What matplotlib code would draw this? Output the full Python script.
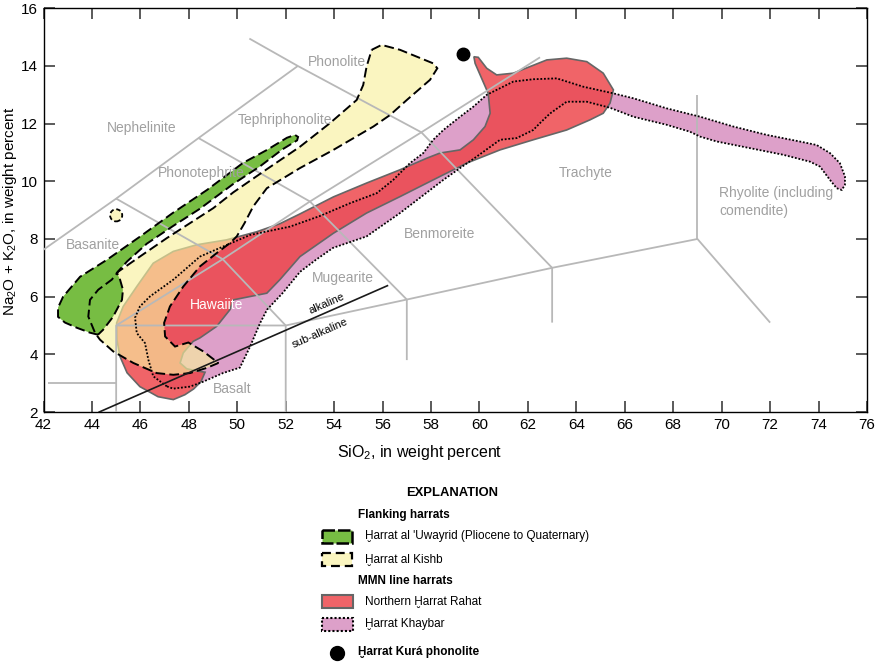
import matplotlib
matplotlib.use('Agg')
import matplotlib.pyplot as plt
from matplotlib.patches import Polygon, Rectangle, Ellipse
from matplotlib import font_manager

# pick a condensed face if there is one
names = {f.name for f in font_manager.fontManager.ttflist}
NF = 'Liberation Sans Narrow' if 'Liberation Sans Narrow' in names else 'Liberation Sans'
k = 1.0 if NF == 'Liberation Sans Narrow' else 0.85
FAM = [NF, 'DejaVu Sans']

plt.rcParams['mathtext.fontset'] = 'custom'
plt.rcParams['mathtext.rm'] = 'Liberation Sans'
plt.rcParams['mathtext.it'] = 'Liberation Sans:italic'

# ---- data: SiO2 (x) and Na2O+K2O (y), weight percent ----
uwayrid_sio2 = [44.25, 43.92, 43.38, 42.89, 42.60, 42.60, 42.81, 43.51, 44.62, 45.98, 47.35, 48.75,
                50.24, 51.23, 52.05, 52.38, 52.51, 52.47, 51.85, 50.94, 49.82, 48.46, 47.35, 46.27,
                45.45, 45.03, 45.16, 45.28, 45.24, 44.87, 44.46]
uwayrid_alk = [4.68, 4.75, 4.92, 5.10, 5.30, 5.62, 6.00, 6.69, 7.28, 8.08, 8.91, 9.70,
               10.64, 11.09, 11.51, 11.61, 11.54, 11.42, 11.10, 10.52, 9.90, 9.05, 8.45, 7.84,
               7.22, 6.83, 6.59, 6.24, 5.89, 5.30, 4.85]

kishb_sio2 = [55.55, 55.96, 56.72, 58.09, 58.26, 57.96, 57.00, 56.31, 55.62, 53.97, 52.59, 51.22,
              50.66, 50.30, 49.98, 49.70, 49.15, 48.46, 47.77, 47.22, 46.98, 47.02, 47.43, 47.98,
              48.60, 49.22, 48.74, 48.05, 47.36, 46.67, 45.71, 44.88, 44.33, 44.13, 43.85, 43.92,
              44.26, 44.82, 45.09, 45.98, 47.09, 48.05, 49.01, 49.84, 51.22, 52.59, 53.83, 54.93,
              55.20, 55.34]
kishb_alk = [14.56, 14.73, 14.56, 14.09, 13.92, 13.52, 12.82, 12.30, 11.90, 11.09, 10.46, 9.76,
             9.13, 8.55, 8.09, 7.86, 7.51, 7.05, 6.35, 5.66, 5.09, 4.62, 4.27, 4.41,
             4.10, 3.70, 3.53, 3.35, 3.29, 3.35, 3.70, 4.10, 4.51, 4.74, 5.31, 5.89,
             6.24, 6.59, 6.87, 7.39, 8.03, 8.55, 9.07, 9.62, 10.42, 11.20, 12.02, 12.82,
             13.34, 13.98]
kishb_dot = (45.0, 8.82)

rahat_sio2 = [45.02, 45.29, 45.85, 46.53, 47.36, 48.33, 49.56, 50.80, 51.76, 52.59, 53.97, 55.34,
              56.72, 57.82, 58.37, 59.20, 59.75, 60.23, 60.44, 60.36, 60.09, 59.82, 59.77, 59.95,
              60.30, 60.71, 61.40, 62.09, 62.78, 63.60, 64.43, 65.11, 65.53, 65.39, 65.11, 64.56,
              63.60, 62.22, 60.85, 59.47, 58.78, 58.09, 56.72, 55.34, 53.97, 52.59, 51.76, 51.22,
              49.84, 49.70, 49.15, 48.46, 48.18, 47.77, 47.64, 47.91, 48.35, 48.67, 48.50, 48.20,
              47.84, 47.36, 46.73, 45.98, 45.45, 45.16, 45.03]
rahat_alk = [5.09, 5.66, 6.35, 7.16, 7.57, 7.80, 7.97, 8.25, 8.53, 8.87, 9.46, 9.94,
             10.40, 10.80, 10.98, 11.09, 11.44, 11.90, 12.36, 13.05, 13.57, 14.09, 14.32, 14.30,
             13.92, 13.69, 13.75, 13.98, 14.21, 14.27, 14.15, 13.75, 13.17, 12.71, 12.36, 12.13,
             11.78, 11.44, 11.09, 10.63, 10.34, 10.05, 9.47, 8.90, 8.20, 7.39, 6.59, 6.12,
             5.89, 5.55, 4.97, 4.57, 4.45, 4.05, 3.70, 3.50, 3.42, 3.38, 3.05, 2.80,
             2.60, 2.43, 2.53, 2.88, 3.36, 3.92, 4.51]

khaybar_sio2 = [47.09, 46.53, 46.33, 46.19, 45.85, 45.78, 45.98, 46.40, 47.36, 48.46, 49.42, 50.53,
                52.18, 53.42, 54.65, 55.76, 56.44, 57.13, 57.68, 58.09, 58.51, 59.20, 59.75, 60.30,
                61.40, 62.22, 63.19, 64.29, 65.53, 66.35, 67.73, 69.11, 70.48, 71.86, 73.23, 73.92,
                74.47, 74.88, 75.09, 75.09, 74.96, 74.75, 74.47, 74.06, 73.65, 72.54, 71.17, 69.80,
                69.11, 68.69, 67.73, 66.35, 65.39, 64.43, 63.60, 62.91, 62.50, 62.22, 61.54, 60.85,
                59.89, 59.20, 58.51, 56.72, 55.34, 53.95, 53.25, 52.59, 51.89, 51.23, 50.94, 50.53,
                50.11, 49.41, 48.59, 48.05, 47.35]
khaybar_alk = [2.89, 3.24, 3.81, 4.39, 4.74, 5.27, 5.66, 6.01, 6.59, 7.39, 7.74, 8.14,
               8.43, 8.80, 9.24, 9.59, 10.05, 10.63, 10.98, 11.44, 11.78, 12.24, 12.59, 13.00,
               13.46, 13.54, 13.57, 13.28, 13.05, 12.88, 12.53, 12.24, 11.90, 11.61, 11.38, 11.26,
               10.98, 10.63, 10.17, 9.88, 9.70, 9.76, 10.05, 10.51, 10.68, 10.92, 11.15, 11.38,
               11.55, 11.72, 11.96, 12.24, 12.55, 12.76, 12.76, 12.35, 12.02, 11.78, 11.50, 11.44,
               10.86, 10.46, 10.05, 8.90, 8.09, 7.69, 7.28, 6.86, 6.14, 5.55, 5.08, 4.27,
               3.54, 3.35, 3.05, 2.88, 2.81]

kura_phonolite = (59.3, 14.42)

# TAS field boundaries
field_lines = [
    [(42.0, 7.63), (45.0, 9.4), (48.4, 11.5), (52.5, 14.0)],
    [(50.5, 14.95), (52.5, 14.0), (57.6, 11.7), (63.0, 7.0), (63.0, 5.1)],
    [(45.0, 9.4), (49.4, 7.3), (52.0, 5.0), (52.0, 2.0)],
    [(48.4, 11.5), (53.0, 9.3), (57.0, 5.9), (57.0, 3.8)],
    [(45.0, 2.0), (45.0, 5.0), (49.4, 7.3), (53.0, 9.3), (57.6, 11.7), (62.5, 14.3)],
    [(45.0, 5.0), (52.0, 5.0), (57.0, 5.9), (63.0, 7.0), (69.0, 8.0), (72.0, 5.1)],
    [(69.0, 8.0), (69.0, 13.0)],
    [(42.2, 3.0), (45.0, 3.0)],
]
alkaline_line = [(44.3, 2.0), (56.2, 6.38)]

field_names = ['Phonolite', 'Nephelinite', 'Tephriphonolite', 'Phonotephrite', 'Basanite',
               'Benmoreite', 'Mugearite', 'Basalt', 'Trachyte']
field_x = [54.1, 46.05, 51.97, 48.53, 44.06, 58.37, 54.35, 49.77, 64.39]
field_y = [14.15, 11.84, 12.13, 10.28, 7.80, 8.17, 6.64, 2.80, 10.28]

GREEN = '#77BD43'
PINK = '#DDA0C9'
RED_A = (237/255, 66/255, 71/255, 0.82)
YEL_A = (248/255, 240/255, 158/255, 0.65)
GRAY = '#A0A0A0'
LINE = '#B8B8B8'

fig = plt.figure(figsize=(8.75, 6.63), dpi=100)
ax = fig.add_axes([43.5/875, 1 - 412/663, (867 - 43.5)/875, (412 - 8.3)/663])
ax.set_xlim(42, 76)
ax.set_ylim(2, 16)
ax.set_xticks(range(42, 77, 2))
ax.set_yticks(range(2, 17, 2))
ax.tick_params(direction='in', length=8, width=1.3, color='#4D4D4D', top=True, right=True,
               labelsize=12 if k == 1.0 else 11)
ax.tick_params(axis='x', pad=4.5)
ax.tick_params(axis='y', pad=4)
for lab in ax.get_xticklabels() + ax.get_yticklabels():
    lab.set_family(FAM)
for s in ax.spines.values():
    s.set_linewidth(1.0)

# fills (layered so overlaps blend like the original)
ax.add_patch(Polygon(list(zip(khaybar_sio2, khaybar_alk)), closed=True, fc=PINK, ec='none', zorder=1))
ax.add_patch(Polygon(list(zip(rahat_sio2, rahat_alk)), closed=True, fc=RED_A, ec='#666666',
                     lw=1.2, zorder=2))
ax.add_patch(Polygon(list(zip(kishb_sio2, kishb_alk)), closed=True, fc=YEL_A, ec='none', zorder=3))
ax.add_patch(Polygon(list(zip(uwayrid_sio2, uwayrid_alk)), closed=True, fc=GREEN, ec='none', zorder=4))

for seg in field_lines:
    xs, ys = zip(*seg)
    ax.plot(xs, ys, color=LINE, lw=1.3, zorder=5, solid_capstyle='butt')

# outlines
ax.add_patch(Polygon(list(zip(khaybar_sio2, khaybar_alk)), closed=True, fill=False, ec='k',
                     lw=1.3, ls=(0, (1, 1)), zorder=6))
ax.add_patch(Polygon(list(zip(kishb_sio2, kishb_alk)), closed=True, fill=False, ec='k',
                     lw=1.4, ls=(0, (5, 2.2)), zorder=6))
ax.add_patch(Polygon(list(zip(uwayrid_sio2, uwayrid_alk)), closed=True, fill=False, ec='k',
                     lw=1.4, ls=(0, (5, 2.2)), zorder=6))
ax.add_patch(Ellipse(kishb_dot, 0.5, 0.42, fc='#FAF5C0', ec='k', lw=1.3, ls=(0, (2.5, 1.5)), zorder=6))

xs, ys = zip(*alkaline_line)
ax.plot(xs, ys, color='#1A1A1A', lw=1.2, zorder=6)
ax.plot(*kura_phonolite, 'o', color='k', ms=9, zorder=7)

for name, x, y in zip(field_names, field_x, field_y):
    ax.text(x, y, name, ha='center', va='center', color=GRAY, fontsize=10,
            family='Liberation Sans', zorder=8)
ax.text(49.15, 5.72, 'Hawaiite', ha='center', va='center', color='white', fontsize=10,
        family='Liberation Sans', zorder=8)
ax.text(69.89, 9.28, 'Rhyolite (including\ncomendite)', ha='left', va='center', color=GRAY,
        fontsize=10, family='Liberation Sans', linespacing=1.3, zorder=8)
ax.text(53.69, 5.75, 'alkaline', ha='center', va='center', rotation=23.7, fontsize=9.5*k,
        family=FAM, zorder=8)
ax.text(53.42, 4.74, 'sub-alkaline', ha='center', va='center', rotation=23.7, fontsize=9.5*k,
        family=FAM, zorder=8)

fig.text(420/875, 1 - 452/663, 'SiO$_2$, in weight percent', ha='center', va='center',
         fontsize=11.5, family='Liberation Sans')
fig.text(10/875, 1 - 211/663, 'Na$_2$O + K$_2$O, in weight percent', ha='center', va='center',
         rotation=90, fontsize=11, family='Liberation Sans')

# explanation block, laid out in pixel units
lax = fig.add_axes([0, 0, 1, 1], zorder=-1)
lax.set_xlim(0, 875)
lax.set_ylim(663, 0)
lax.axis('off')
lax.patch.set_visible(False)

lax.text(452, 493, 'EXPLANATION', ha='center', va='center', fontweight='bold', fontsize=11*k, family=FAM)
lax.text(358, 515, 'Flanking harrats', ha='left', va='center', fontweight='bold', fontsize=10*k, family=FAM)
lax.add_patch(Rectangle((322, 529.5), 30, 13, fc=GREEN, ec='k', lw=1.8, ls=(0, (5, 1.2))))
lax.text(365, 536, "\u1e2aarrat al 'Uwayrid (Pliocene to Quaternary)", ha='left', va='center',
         fontsize=10*k, family=FAM)
lax.add_patch(Rectangle((322, 553), 30, 13, fc='#FAF5C0', ec='k', lw=1.6, ls=(0, (4, 2.2))))
lax.text(365, 559.5, '\u1e2aarrat al Kishb', ha='left', va='center', fontsize=10*k, family=FAM)
lax.text(358, 581, 'MMN line harrats', ha='left', va='center', fontweight='bold', fontsize=10*k, family=FAM)
lax.add_patch(Rectangle((322, 595), 31, 13, fc='#F06468', ec='#666666', lw=1.5))
lax.text(365, 602, 'Northern \u1e2aarrat Rahat', ha='left', va='center', fontsize=10*k, family=FAM)
lax.add_patch(Rectangle((322, 617.5), 31, 13.5, fc=PINK, ec='k', lw=1.5, ls=(0, (1, 1))))
lax.text(365, 624.5, '\u1e2aarrat Khaybar', ha='left', va='center', fontsize=10*k, family=FAM)
lax.plot(337, 652.5, 'o', color='k', ms=10)
lax.text(358, 652.5, '\u1e2aarrat Kur\u00e1 phonolite', ha='left', va='center', fontweight='bold',
         fontsize=10*k, family=FAM)

fig.savefig('out.png', dpi=100)
